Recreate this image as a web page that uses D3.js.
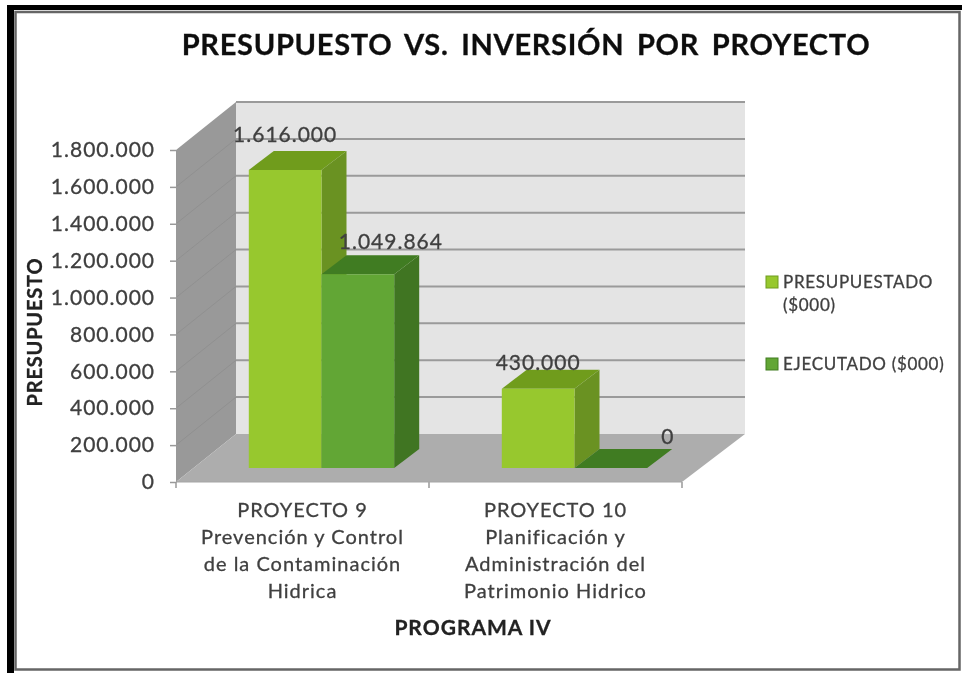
<!DOCTYPE html>
<html>
<head>
<meta charset="utf-8">
<script src="https://cdn.jsdelivr.net/npm/d3@7"></script>
<style>
  html, body { margin: 0; padding: 0; background: #fff; }
  svg { display: block; }
  text { font-family: "Lato", "Noto Sans", sans-serif; stroke: currentColor; stroke-width: 0.3px; }
</style>
</head>
<body>
<div id="chart"></div>
<script>
// Chart values
const categories = ["PROYECTO 9", "PROYECTO 10"];
const categoryLines = [
    ["PROYECTO 9", "Prevención y Control", "de la Contaminación", "Hidrica"],
    ["PROYECTO 10", "Planificación y", "Administración del", "Patrimonio Hidrico"]
];
const seriesNames = ["PRESUPUESTADO", "EJECUTADO"];
const presupuestado = [1616000, 430000];
const ejecutado = [1049864, 0];
const yTicks = [0, 200000, 400000, 600000, 800000, 1000000, 1200000, 1400000, 1600000, 1800000];
const legendLines = [["PRESUPUESTADO", "($000)"], ["EJECUTADO ($000)"]];
// label nudges from the bar's back top edge, per series then category
const labelNudgeX = [[0, 0], [33, 57]];
const labelNudgeY = [[-9, 0], [-6, -5]];

const width = 962;
const height = 673;
const inkText = "#3f3f3f";

const svg = d3.select("#chart").append("svg")
    .attr("width", width)
    .attr("height", height);

// slight softening, the source is a low quality picture
svg.append("defs").append("filter")
    .attr("id", "soft")
    .append("feGaussianBlur")
    .attr("stdDeviation", 0.55);

const root = svg.append("g").attr("filter", "url(#soft)");

// Frame
root.append("rect").attr("x", 15.5).attr("y", 12).attr("width", 944).attr("height", 657.5)
    .attr("fill", "#fff").attr("stroke", "#666").attr("stroke-width", 2.5);
root.append("rect").attr("x", 7).attr("y", 5).attr("width", 7).attr("height", 668).attr("fill", "#000");
root.append("rect").attr("x", 7).attr("y", 5).attr("width", 955).attr("height", 5).attr("fill", "#000");

// Scales
const xScale = d3.scaleBand().domain(categories).range([176, 682]);
const yScale = d3.scaleLinear().domain([0, 1800000]).range([482, 150]);
const seriesScale = d3.scaleBand().domain(seriesNames)
    .range([0, xScale.step()])
    .paddingInner(0)
    .paddingOuter(0.74);

// depth of the box the chart sits in, and of the bars inside it
const wall = { dx: 60, dy: -48, right: 745 };
const floorFront = { dx: 19, dy: -14 };
const barDepth = { dx: 25, dy: -19 };

const poly = pts => "M" + pts.map(p => p.join(",")).join("L") + "Z";
const left = xScale.range()[0];
const right = xScale.range()[1];
const y0 = yScale(0);
const yTop = yScale(1800000);

// Back wall
root.append("path")
    .attr("d", poly([[left + wall.dx, yTop + wall.dy], [wall.right, yTop + wall.dy], [wall.right, y0 + wall.dy], [left + wall.dx, y0 + wall.dy]]))
    .attr("fill", "#e4e4e4");

// Side wall
root.append("path")
    .attr("d", poly([[left, yTop], [left + wall.dx, yTop + wall.dy], [left + wall.dx, y0 + wall.dy], [left, y0]]))
    .attr("fill", "#999999");

// Floor
root.append("path")
    .attr("d", poly([[left, y0], [left + wall.dx, y0 + wall.dy], [wall.right, y0 + wall.dy], [right, y0]]))
    .attr("fill", "#adadad");

// Gridlines over both walls
root.append("g").selectAll("line.back")
    .data(yTicks.filter(d => d > 0))
    .join("line")
    .attr("x1", left + wall.dx)
    .attr("x2", wall.right)
    .attr("y1", d => yScale(d) + wall.dy)
    .attr("y2", d => yScale(d) + wall.dy)
    .attr("stroke", "#9a9a9a")
    .attr("stroke-width", 2);

root.append("g").selectAll("line.side")
    .data(yTicks.filter(d => d > 0 && d < 1800000))
    .join("line")
    .attr("x1", left)
    .attr("x2", left + wall.dx)
    .attr("y1", d => yScale(d))
    .attr("y2", d => yScale(d) + wall.dy)
    .attr("stroke", "#909090")
    .attr("stroke-width", 1);

// Axes
const esLocale = d3.formatLocale({ decimal: ",", thousands: ".", grouping: [3], currency: ["$", ""] });
const numFormat = esLocale.format(",d");

const yAxisG = root.append("g")
    .attr("transform", `translate(${left},0)`)
    .call(d3.axisLeft(yScale).tickValues(yTicks).tickFormat(numFormat).tickSize(6).tickPadding(15));
yAxisG.select(".domain").attr("stroke", "#999");
yAxisG.selectAll(".tick line").attr("stroke", "#999").attr("stroke-width", 1.5);
yAxisG.selectAll("text")
    .attr("fill", inkText)
    .style("color", inkText)
    .style("font-size", "21px")
    .style("letter-spacing", "1px");

// category ticks sit on the band edges
root.append("g").selectAll("line")
    .data([left, left + xScale.step(), right])
    .join("line")
    .attr("x1", d => d).attr("x2", d => d)
    .attr("y1", y0).attr("y2", y0 + 6)
    .attr("stroke", "#999")
    .attr("stroke-width", 1.5);

root.append("line")
    .attr("x1", left).attr("x2", right)
    .attr("y1", y0).attr("y2", y0)
    .attr("stroke", "#a5a5a5");

// Bars
const barColors = [
    { front: "#97c82e", top: "#6f9c1f", side: "#6a9222" },
    { front: "#62a634", top: "#417c20", side: "#3f7522" }
];
const seriesValues = [presupuestado, ejecutado];
const barBottom = y0 + floorFront.dy;

seriesNames.forEach((name, s) => {
    const g = root.append("g").attr("class", "bars");
    categories.forEach((cat, c) => {
        const x1 = xScale(cat) + floorFront.dx + seriesScale(name);
        const x2 = x1 + seriesScale.bandwidth();
        const top = yScale(seriesValues[s][c]) + floorFront.dy;
        const { dx, dy } = barDepth;
        g.append("path")
            .attr("d", poly([[x2, top], [x2 + dx, top + dy], [x2 + dx, barBottom + dy], [x2, barBottom]]))
            .attr("fill", barColors[s].side);
        g.append("path")
            .attr("d", poly([[x1, top], [x1 + dx, top + dy], [x2 + dx, top + dy], [x2, top]]))
            .attr("fill", barColors[s].top);
        g.append("path")
            .attr("d", poly([[x1, top], [x2, top], [x2, barBottom], [x1, barBottom]]))
            .attr("fill", barColors[s].front);
    });
});

// Data labels
seriesNames.forEach((name, s) => {
    root.append("g").selectAll("text")
        .data(categories)
        .join("text")
        .attr("x", (d, i) => xScale(d) + floorFront.dx + seriesScale(name) + seriesScale.bandwidth() / 2 + labelNudgeX[s][i])
        .attr("y", (d, i) => yScale(seriesValues[s][i]) + floorFront.dy + barDepth.dy + labelNudgeY[s][i])
        .attr("text-anchor", "middle")
        .attr("fill", inkText)
        .style("color", inkText)
        .style("font-size", "21px")
        .style("letter-spacing", "1px")
        .text((d, i) => numFormat(seriesValues[s][i]));
});

// Category labels
categories.forEach((cat, c) => {
    root.append("text")
        .attr("x", xScale(cat) + xScale.bandwidth() / 2)
        .attr("y", 517)
        .attr("text-anchor", "middle")
        .attr("fill", inkText)
        .style("color", inkText)
        .style("font-size", "20px")
        .style("letter-spacing", "1px")
        .selectAll("tspan")
        .data(categoryLines[c])
        .join("tspan")
        .attr("x", xScale(cat) + xScale.bandwidth() / 2)
        .attr("dy", (d, i) => i === 0 ? 0 : 27)
        .text(d => d);
});

// Titles
root.append("text")
    .attr("x", 526)
    .attr("y", 55)
    .attr("text-anchor", "middle")
    .attr("fill", "#111")
    .style("color", "#111")
    .style("font-size", "29px")
    .style("font-weight", "bold")
    .style("letter-spacing", "0.7px")
    .style("word-spacing", "5px")
    .text("PRESUPUESTO VS. INVERSIÓN POR PROYECTO");

root.append("text")
    .attr("x", 473)
    .attr("y", 635)
    .attr("text-anchor", "middle")
    .attr("fill", "#222")
    .style("color", "#222")
    .style("font-size", "21px")
    .style("font-weight", "bold")
    .style("letter-spacing", "1px")
    .text("PROGRAMA IV");

root.append("text")
    .attr("transform", "translate(42,332) rotate(-90)")
    .attr("text-anchor", "middle")
    .attr("fill", "#222")
    .style("color", "#222")
    .style("font-size", "20px")
    .style("font-weight", "bold")
    .style("letter-spacing", "0.8px")
    .text("PRESUPUESTO");

// Legend
const legendY = d3.scalePoint().domain(seriesNames).range([288, 370]);
seriesNames.forEach((name, s) => {
    root.append("rect")
        .attr("x", 766)
        .attr("y", legendY(name) - 12)
        .attr("width", 12)
        .attr("height", 12)
        .attr("fill", barColors[s].front)
        .attr("stroke", barColors[s].top)
        .attr("stroke-width", 1);
    root.append("text")
        .attr("y", legendY(name))
        .attr("fill", inkText)
        .style("color", inkText)
        .style("font-size", "17px")
        .style("letter-spacing", "0.7px")
        .selectAll("tspan")
        .data(legendLines[s])
        .join("tspan")
        .attr("x", 783)
        .attr("dy", (d, i) => i === 0 ? 0 : 23)
        .text(d => d);
});
</script>
</body>
</html>
